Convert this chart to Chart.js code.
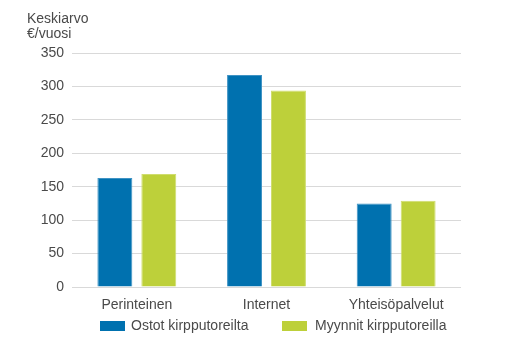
<!DOCTYPE html>
<html>
<head>
<meta charset="utf-8">
<script src="https://cdn.jsdelivr.net/npm/chart.js@4"></script>
<style>
  html, body { margin: 0; padding: 0; background: #fff; }
  #wrap { width: 510px; height: 351px; position: relative; }
</style>
</head>
<body>
<div id="wrap"><canvas id="chart" width="510" height="351"></canvas></div>
<script>
const categories = ["Perinteinen", "Internet", "Yhteisöpalvelut"];
const seriesNames = ["Ostot kirpputoreilta", "Myynnit kirpputoreilla"];
const ostot = [163, 317, 125];
const myynnit = [169, 294, 129];
const yTicks = [0, 50, 100, 150, 200, 250, 300, 350];
const axisTitle = ["Keskiarvo", "€/vuosi"];

const BLUE = "#0071AF";
const GREEN = "#BDD03A";
const TEXT = "#4a4a4a";
const FONT = "'Liberation Sans', Arial, sans-serif";

// axis title and legend drawn by hand so they sit where the original has them
const extras = {
    id: "extras",
    afterDraw(chart) {
        const ctx = chart.ctx;
        ctx.save();
        ctx.font = "14px " + FONT;
        ctx.fillStyle = TEXT;
        ctx.textBaseline = "alphabetic";
        ctx.textAlign = "left";
        ctx.fillText(axisTitle[0], 27, 23);
        ctx.fillText(axisTitle[1], 27, 38);

        const items = [
            { x: 100, tx: 131, color: BLUE, text: chart.data.datasets[0].label },
            { x: 282, tx: 315, color: GREEN, text: chart.data.datasets[1].label }
        ];
        items.forEach(it => {
            ctx.fillStyle = it.color;
            ctx.fillRect(it.x, 321, 25, 10);
            ctx.fillStyle = TEXT;
            ctx.textBaseline = "middle";
            ctx.fillText(it.text, it.tx, 326);
        });
        ctx.restore();
    }
};

new Chart(document.getElementById("chart").getContext("2d"), {
    type: "bar",
    data: {
        labels: categories,
        datasets: [{
            label: seriesNames[0],
            data: ostot,
            backgroundColor: BLUE,
            borderColor: "#3f93c4",
            borderWidth: 1,
            categoryPercentage: 0.678,
            barPercentage: 0.795
        }, {
            label: seriesNames[1],
            data: myynnit,
            backgroundColor: GREEN,
            borderColor: "#cfdd6e",
            borderWidth: 1,
            categoryPercentage: 0.678,
            barPercentage: 0.795
        }]
    },
    options: {
        responsive: false,
        animation: false,
        layout: { padding: { top: 53, right: 49, left: 0, bottom: 0 } },
        plugins: {
            legend: { display: false },
            tooltip: { enabled: false }
        },
        scales: {
            x: {
                grid: { display: false },
                border: { display: false },
                ticks: { color: TEXT, font: { family: FONT, size: 14 }, padding: 2, maxRotation: 0 },
                afterFit: s => { s.height = 64; }
            },
            y: {
                min: 0,
                max: 350,
                afterBuildTicks: s => { s.ticks = yTicks.map(v => ({ value: v })); },
                grid: { color: "#d9d9d9", lineWidth: 1, drawTicks: false },
                border: { display: false },
                ticks: { color: TEXT, font: { family: FONT, size: 14 }, padding: 8 },
                afterFit: s => { s.width = 72; }
            }
        }
    },
    plugins: [extras]
});
</script>
</body>
</html>
